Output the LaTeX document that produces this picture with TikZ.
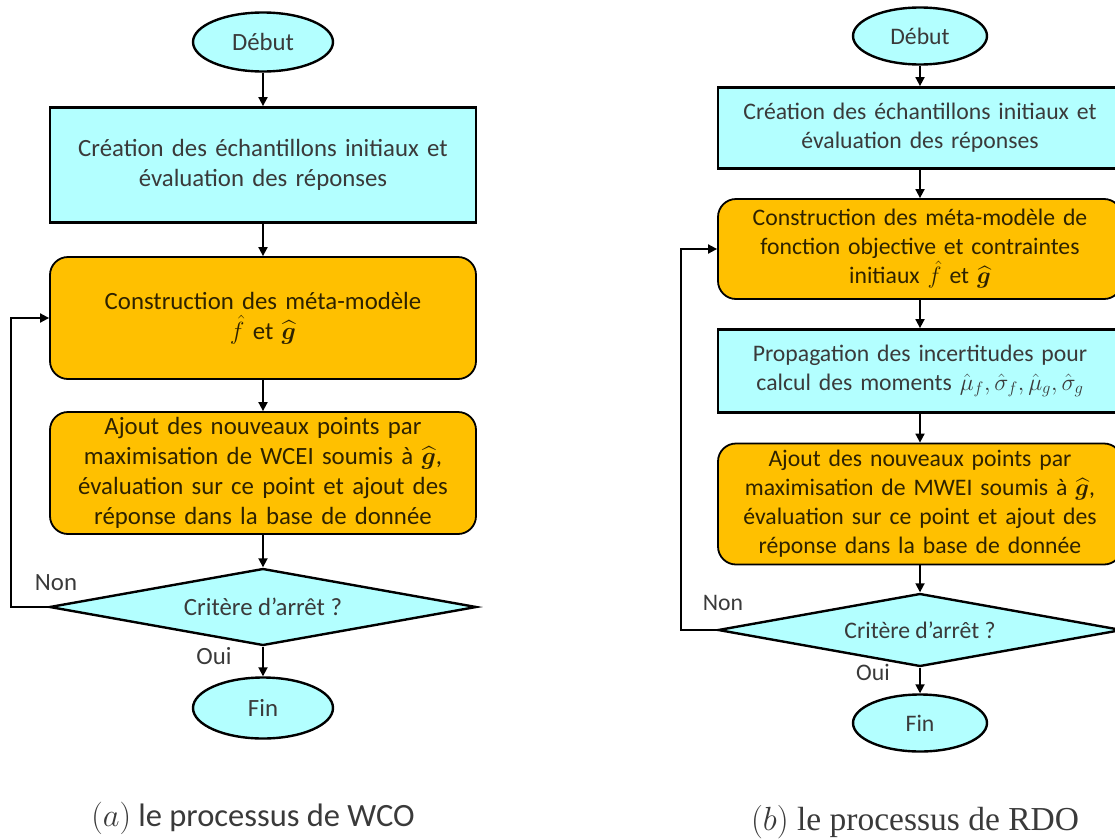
\RequirePackage{fix-cm}
\documentclass[tikz,border=0pt]{standalone}
\usepackage{amsmath,amssymb}
\usepackage{bm}
\usepackage{fontspec}
\setmainfont{Carlito}
\newfontfamily\capserif{Liberation Serif}
\usetikzlibrary{arrows.meta,shapes.geometric}
\definecolor{boxcyan}{HTML}{B3FFFF}
\definecolor{boxorange}{HTML}{FFC000}
\definecolor{txtgray}{HTML}{3A3A3A}
\definecolor{txtbrown}{HTML}{2E2200}

\begin{document}
\begin{tikzpicture}[
  x=1pt, y=-1pt,
  terminal/.style={ellipse, draw, line width=2.4pt, fill=boxcyan, inner sep=0pt, text=txtgray},
  process/.style={rectangle, draw, line width=2.8pt, fill=boxcyan, align=center, text=txtgray},
  meta/.style={rectangle, rounded corners=18pt, draw, line width=1.8pt, fill=boxorange, align=center, text=txtbrown},
  decision/.style={diamond, aspect=5.5, draw, line width=2.4pt, fill=boxcyan, inner sep=0pt, text=txtgray},
  flow/.style={-{Triangle[length=9pt,width=9pt]}, line width=1.8pt},
  label/.style={text=txtgray},
]
\useasboundingbox (0,0) rectangle (1115,838);

% ===== Panel (a): WCO =====
\begin{scope}[font=\fontsize{24.8}{30}\selectfont]
  \node[terminal, minimum width=140pt, minimum height=59pt] (debutA) at (263,42) {Début};
  \node[process, minimum width=426pt, minimum height=115pt, text width=410pt] (creaA) at (263,165)
    {Création des échantillons initiaux et\\ évaluation des réponses};
  \node[meta, minimum width=426pt, minimum height=122pt, text width=410pt] (metaA) at (263,318)
    {Construction des méta-modèle\\ $\hat{f}$ et $\widehat{\bm{g}}$};
  \node[meta, minimum width=426pt, minimum height=122pt, text width=416pt, inner xsep=2pt] (ajoutA) at (263,473)
    {Ajout des nouveaux points par\\ maximisation de WCEI soumis à $\widehat{\bm{g}}$,\\
     évaluation sur ce point et ajout des\\ réponse dans la base de donnée};
  \node[decision, minimum width=427pt, minimum height=77pt] (critA) at (263,607) {Critère d’arrêt ?};
  \node[terminal, minimum width=140pt, minimum height=61pt] (finA) at (263,708) {Fin};

  % arrows
  \draw[flow] (debutA) -- (creaA);
  \draw[flow] (creaA) -- (metaA);
  \draw[flow] (metaA) -- (ajoutA);
  \draw[flow] (ajoutA) -- (critA);
  \draw[flow] (critA) -- (finA);
  \draw[flow] (critA.west) -- ++(-37,0) |- (metaA.west);

  \node[label] at (56,583) {Non};
  \node[label] at (214,656) {Oui};

  % caption
  \node[font=\fontsize{32.5}{36}\selectfont, text=txtgray] at (253,818) {$(a)$ le processus de WCO};
\end{scope}

% ===== Panel (b): RDO =====
\begin{scope}[font=\fontsize{23.7}{29}\selectfont]
  \node[terminal, minimum width=134pt, minimum height=57pt] (debutB) at (920,36) {Début};
  \node[process, minimum width=404pt, minimum height=81pt, text width=396pt, inner xsep=2pt] (creaB) at (920,128)
    {Création des échantillons initiaux et\\ évaluation des réponses};
  \node[meta, minimum width=404pt, minimum height=100pt, text width=396pt, inner xsep=2pt] (metaB) at (920,249)
    {Construction des méta-modèle de\\ fonction objective et contraintes\\ initiaux $\hat{f}$ et $\widehat{\bm{g}}$};
  \node[process, minimum width=404pt, minimum height=83pt, text width=396pt, inner xsep=2pt] (propB) at (920,371)
    {Propagation des incertitudes pour\\ calcul des moments $\hat{\mu}_f, \hat{\sigma}_f, \hat{\mu}_g, \hat{\sigma}_g$};
  \node[meta, minimum width=404pt, minimum height=121pt, text width=396pt, inner xsep=2pt] (ajoutB) at (920,504)
    {Ajout des nouveaux points par\\ maximisation de MWEI soumis à $\widehat{\bm{g}}$,\\
     évaluation sur ce point et ajout des\\ réponse dans la base de donnée};
  \node[decision, minimum width=404pt, minimum height=73pt] (critB) at (920,630) {Critère d’arrêt ?};
  \node[terminal, minimum width=134pt, minimum height=57pt] (finB) at (920,723) {Fin};

  % arrows
  \draw[flow] (debutB) -- (creaB);
  \draw[flow] (creaB) -- (metaB);
  \draw[flow] (metaB) -- (propB);
  \draw[flow] (propB) -- (ajoutB);
  \draw[flow] (ajoutB) -- (critB);
  \draw[flow] (critB) -- (finB);
  \draw[flow] (critB.west) -- ++(-36,0) |- (metaB.west);

  \node[label] at (723,603) {Non};
  \node[label] at (873,672) {Oui};

  % caption
  \node[font=\fontsize{33.5}{36}\capserif, text=txtgray] at (915,822) {$(b)$ le processus de RDO};
\end{scope}

\end{tikzpicture}
\end{document}
